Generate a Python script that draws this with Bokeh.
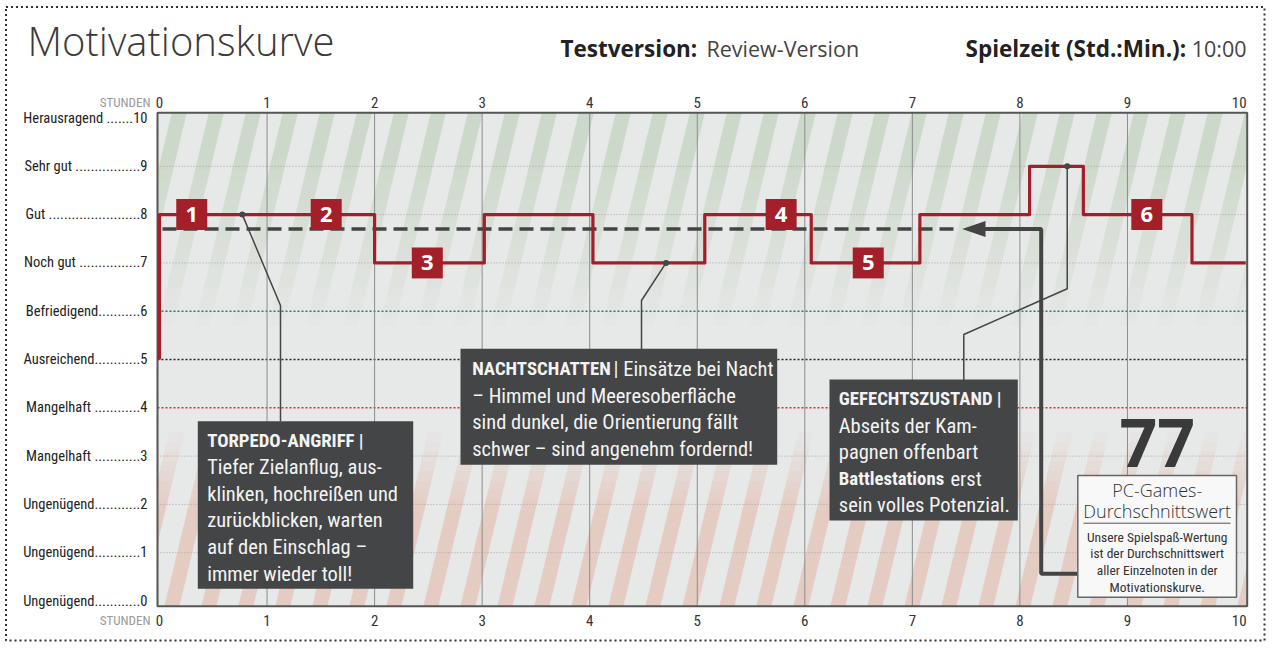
import numpy as np
from bokeh.plotting import figure
from bokeh.models import Range1d
from bokeh.core.properties import value
from bokeh.embed import file_html
from bokeh.resources import INLINE

# ---------------- data ----------------
step_hours = [0, 0, 2.0, 3.02, 4.03, 5.07, 6.06, 7.07, 8.09, 8.59, 9.6, 10.1]
step_scores = [5, 8, 7, 8, 7, 8, 7, 8, 9, 8, 7, 7]
average_score = 77  # PC-Games-Durchschnittswert (7.7 auf der Skala)
badge_hours = [0.3, 1.55, 2.49, 5.78, 6.59, 9.18]
badge_scores = [8, 8, 7, 8, 7, 8]
badge_labels = ["1", "2", "3", "4", "5", "6"]
callout_hours = [0.77, 4.71, 8.44]
callout_scores = [8, 7, 9]
grade_values = [10, 9, 8, 7, 6, 5, 4, 3, 2, 1, 0]
grade_names = ["Herausragend", "Sehr gut", "Gut", "Noch gut", "Befriedigend",
               "Ausreichend", "Mangelhaft", "Mangelhaft", "Ungenügend",
               "Ungenügend", "Ungenügend"]
grade_seps = [" ", " ", " ", " ", "", "", " ", " ", "", "", ""]
grade_dots = [7, 17, 24, 16, 11, 12, 12, 12, 12, 12, 12]
hour_ticks = list(range(0, 11))

# ---------------- layout mapping (page pixels -> data) ----------------
W, H = 1270, 646
PX0, SXP = 159.0, 107.55
PY5, SYP = 359.0, 48.3
XA = -PX0 / SXP
XB = XA + W / SXP
YB = 5 + PY5 / SYP
YA = YB - H / SYP


def X(px):
    return (px - PX0) / SXP


def Y(py):
    return 5 + (PY5 - py) / SYP


COND = "Roboto Condensed, Roboto"
SANS = "Open Sans"
LIGHT = "Open Sans Light, Open Sans"

p = figure(width=W, height=H, x_range=Range1d(XA, XB), y_range=Range1d(YA, YB),
           output_backend="svg", toolbar_location=None, min_border=0,
           x_axis_location=None, y_axis_location=None, title=None)
p.outline_line_color = None
p.grid.visible = False
p.background_fill_color = "white"
p.border_fill_color = "white"


def txt(x, y, s, size, color, font=COND, style="normal", align="left",
        baseline="middle", **kw):
    p.text(x=[x], y=[y], text=[s], text_font=value(font),
           text_font_size=f"{size}px", text_font_style=style,
           text_color=color, text_align=align, text_baseline=baseline, **kw)


# page border (dotted)
p.quad(left=X(5.5), right=X(1264), top=Y(6.5), bottom=Y(640),
       fill_color=None, line_color="#333333", line_width=2, line_dash="2 3")

# plot area
L, R = X(157.0), X(1246.7)
T, B = Y(112.3), Y(605.7)
p.quad(left=L, right=R, top=T, bottom=B, fill_color="#e7e8e8", line_color=None)

# diagonal stripes with fading
spacing = 37 / SXP
swidth = 15 / SXP
slope = 0.24 * SYP / SXP
band = 0.2
xs_all, ys_all, cols, alphas = [], [], [], []
yb0 = B
while yb0 < T - 1e-9:
    yb1 = min(yb0 + band, T)
    ym = 0.5 * (yb0 + yb1)
    ag = 0.42 * np.clip((ym - 5.6) / (9.2 - 5.6), 0, 1)
    ar = 0.48 * np.clip((3.5 - ym) / (3.5 - 1.9), 0, 1)
    if ag > 0 or ar > 0:
        col = "#a8c3a0" if ag > 0 else "#e2ad98"
        a = ag if ag > 0 else ar
        x0 = L - 2.0
        while x0 < R + 0.5:
            px = np.clip([x0 + slope * (yb0 - B), x0 + swidth + slope * (yb0 - B),
                          x0 + swidth + slope * (yb1 - B), x0 + slope * (yb1 - B)], L, R)
            if px.max() - px.min() > 1e-6:
                xs_all.append(list(px))
                ys_all.append([yb0, yb0, yb1, yb1])
                cols.append(col)
                alphas.append(float(a))
            x0 += spacing
    yb0 = yb1
p.patches(xs_all, ys_all, fill_color=cols, fill_alpha=alphas, line_color=None)

# horizontal grid
for g in [1, 2, 3, 7, 8, 9]:
    p.segment(x0=L, y0=g, x1=R, y1=g, line_color="#a5a5a5", line_width=1, line_dash="1 2")
p.segment(x0=L, y0=6, x1=R, y1=6, line_color="#2f7d55", line_width=1.6, line_dash="2 2")
p.segment(x0=L, y0=5, x1=R, y1=5, line_color="#222222", line_width=1.6, line_dash="2 2")
p.segment(x0=L, y0=4, x1=R, y1=4, line_color="#cc3333", line_width=1.6, line_dash="2 2")
# vertical hour lines
for h in hour_ticks[1:-1]:
    p.segment(x0=h, y0=B, x1=h, y1=T, line_color="#8c8c8c", line_width=1)
# frame border
p.quad(left=L, right=R, top=T, bottom=B, fill_color=None, line_color="#555555", line_width=2)

# average dashed line + arrow connector
avg = average_score / 10
p.line([X(162), X(958)], [avg, avg], line_color="#444444", line_width=3.5, line_dash="14 7")
p.patch([X(961.7), X(985), X(985)], [avg, avg + 8 / SYP, avg - 8 / SYP],
        fill_color="#444444", line_color=None)
p.line([X(984), X(1040.7), X(1040.7), X(1077.3)], [avg, avg, Y(573.3), Y(573.3)],
       line_color="#444444", line_width=4)

# step line
p.step(step_hours, step_scores, mode="after", line_color="#a51d2a", line_width=3.2,
       line_join="round")

# callouts
DARK = "#434546"
p.line([callout_hours[0], X(280), X(280)], [callout_scores[0], Y(305), Y(421)],
       line_color=DARK, line_width=1.5)
p.line([callout_hours[1], X(641), X(641)], [callout_scores[1], Y(300), Y(349)],
       line_color=DARK, line_width=1.5)
p.line([callout_hours[2], callout_hours[2], X(963.3), X(963.3)],
       [callout_scores[2], Y(288.3), Y(334), Y(380)], line_color=DARK, line_width=1.5)
p.scatter(callout_hours, callout_scores, size=6, fill_color=DARK, line_color=None)

# badges
p.rect(badge_hours, badge_scores, width=31, height=31, width_units="screen",
       height_units="screen", fill_color="#a31f2a", line_color=None)
p.text(badge_hours, badge_scores, text=badge_labels, text_font=value(SANS),
       text_font_size="22px", text_font_style="bold", text_color="white",
       text_align="center", text_baseline="middle")

# annotation boxes
for (l, r, t, b) in [(197.3, 412.7, 420.7, 588.3), (460, 776.7, 348.3, 464.3),
                     (829, 1017.3, 379, 520)]:
    p.quad(left=X(l), right=X(r), top=Y(t), bottom=Y(b), fill_color=DARK, line_color=None)

WHITE = "#f3f3f3"
FS = 20.5
FB = 18.8
tor = ["Tiefer Zielanflug, aus-", "klinken, hochreißen und", "zurückblicken, warten",
       "auf den Einschlag –", "immer wieder toll!"]
txt(X(206.7), Y(440), "TORPEDO-ANGRIFF |", FB, WHITE, style="bold")
for i, s in enumerate(tor):
    txt(X(206.7), Y(466.7 + i * 26.6), s, FS, WHITE)

txt(X(471.7), Y(368), "NACHTSCHATTEN", FB, WHITE, style="bold")
txt(X(613), Y(368), "| Einsätze bei Nacht", FS, WHITE)
nacht = ["– Himmel und Meeresoberfläche", "sind dunkel, die Orientierung fällt",
         "schwer – sind angenehm fordernd!"]
for i, s in enumerate(nacht):
    txt(X(471.7), Y(395 + i * 26.7), s, FS, WHITE)

txt(X(838.3), Y(398.3), "GEFECHTSZUSTAND |", FB, WHITE, style="bold")
txt(X(838.3), Y(425), "Abseits der Kam-", FS, WHITE)
txt(X(838.3), Y(451.5), "pagnen offenbart", FS, WHITE)
txt(X(838.3), Y(478), "Battlestations", FB, WHITE, style="bold")
txt(X(950), Y(478), "erst", FS, WHITE)
txt(X(838.3), Y(504.5), "sein volles Potenzial.", FS, WHITE)

# score box
p.quad(left=X(1077.3), right=X(1236), top=Y(475), bottom=Y(596.7),
       fill_color="#f8f8f8", line_color="#666666", line_width=1.5)
CX = X(1156.7)
txt(CX, Y(442), str(average_score), 66, "#3a3a3a", font=SANS, style="bold",
    align="center")
txt(CX, Y(489.3), "PC-Games-", 18, "#333333", font=LIGHT, align="center")
txt(CX, Y(510), "Durchschnittswert", 18, "#333333", font=LIGHT, align="center")
p.segment(x0=X(1083), y0=Y(522.7), x1=X(1230), y1=Y(522.7), line_color="#555555", line_width=1)
small = ["Unsere Spielspaß-Wertung", "ist der Durchschnittswert",
         "aller Einzelnoten in der", "Motivationskurve."]
for i, s in enumerate(small):
    txt(CX, Y(536 + i * 16.7), s, 13.5, "#333333", align="center")

# hour tick labels (top and bottom)
for ty in [101.7, 620]:
    for h in hour_ticks[:-1]:
        txt(h, Y(ty), str(h), 15, "#333333", align="center")
    txt(R - 0.005, Y(ty), str(hour_ticks[-1]), 15, "#333333", align="right")
    txt(X(150), Y(ty), "STUNDEN", 13, "#9a9a9a", align="right")

# grade labels with dot leaders
for gv, name, sep, nd in zip(grade_values, grade_names, grade_seps, grade_dots):
    txt(X(147), gv, name + sep + "." * nd + str(gv), 14.5, "#222222", align="right")

# header
txt(X(27), Y(40), "Motivationskurve", 40, "#3a3a3a", font=LIGHT)
txt(X(560), Y(48), "Testversion:", 22.5, "#222222", font=SANS, style="bold")
txt(X(706), Y(48), "Review-Version", 21.5, "#444444", font=SANS)
txt(X(965), Y(48), "Spielzeit (Std.:Min.):", 22.5, "#222222", font=SANS, style="bold")
txt(X(1246), Y(48), "10:00", 21.5, "#444444", font=SANS, align="right")

open("out.html", "w").write(file_html(p, INLINE))
